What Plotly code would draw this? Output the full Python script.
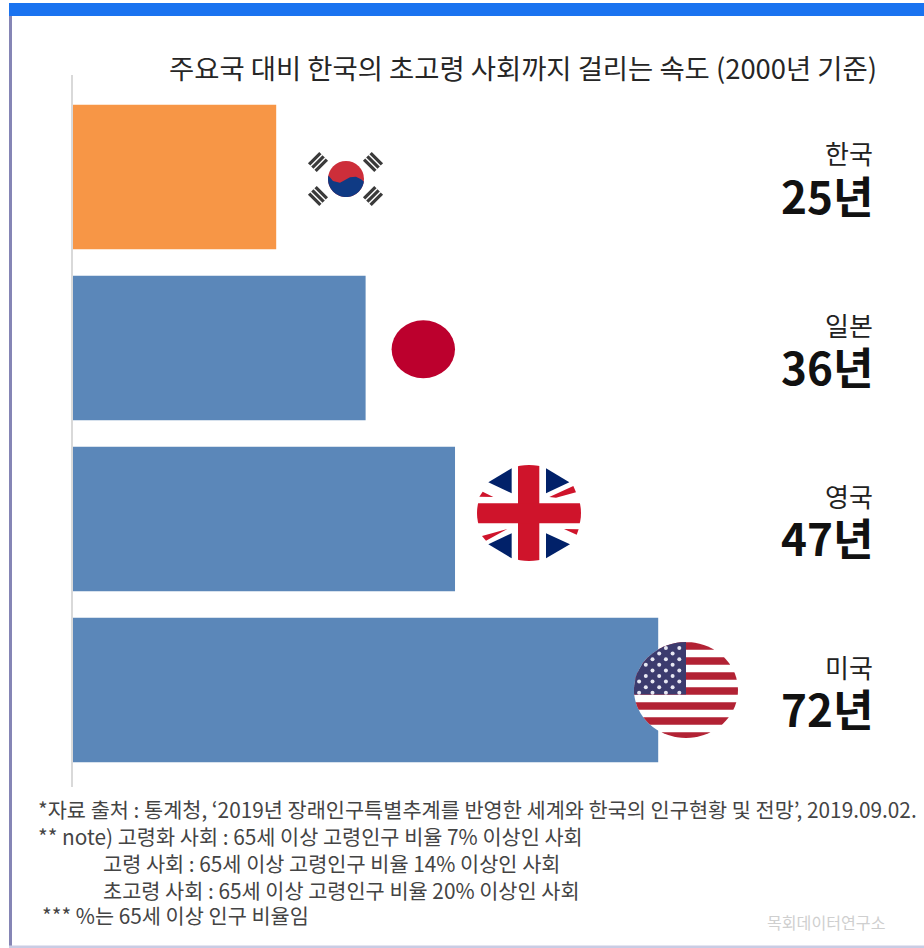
import math
import plotly.graph_objects as go

W, H = 924, 948
KR = "Noto Sans CJK KR"

countries = ["한국", "일본", "영국", "미국"]
years = [25, 36, 47, 72]
bar_colors = ["#F79646", "#5B87B9", "#5B87B9", "#5B87B9"]
title_text = "주요국 대비 한국의 초고령 사회까지 걸리는 속도 (2000년 기준)"
notes = [
    "*자료 출처 : 통계청, ‘2019년 장래인구특별추계를 반영한 세계와 한국의 인구현황 및 전망’, 2019.09.02.",
    "** note) 고령화 사회 : 65세 이상 고령인구 비율 7% 이상인 사회",
    "고령 사회 : 65세 이상 고령인구 비율 14% 이상인 사회",
    "초고령 사회 : 65세 이상 고령인구 비율 20% 이상인 사회",
    "*** %는 65세 이상 인구 비율임",
]
watermark = "목회데이터연구소"

shapes = []


def px(x):
    return x / W


def py(y):
    return 1 - y / H


def polygon(points, color):
    """Filled polygon given in page pixels."""
    path = "M" + "L".join(f"{px(x):.5f},{py(y):.5f}" for x, y in points) + "Z"
    shapes.append(dict(type="path", xref="paper", yref="paper", path=path,
                       fillcolor=color, line=dict(width=0), layer="above"))


def ellipse(cx, cy, rx, ry, color):
    shapes.append(dict(type="circle", xref="paper", yref="paper",
                       x0=px(cx - rx), x1=px(cx + rx), y0=py(cy + ry), y1=py(cy - ry),
                       fillcolor=color, line=dict(width=0), layer="above"))


def rect(x0, y0, x1, y1, color):
    shapes.append(dict(type="rect", xref="paper", yref="paper",
                       x0=px(x0), x1=px(x1), y0=py(y1), y1=py(y0),
                       fillcolor=color, line=dict(width=0), layer="above"))


def clip_to_ellipse(points, cx, cy, rx, ry, sides=72):
    """Sutherland-Hodgman clip of a polygon against a many-sided ellipse."""
    ring = [(cx + rx * math.cos(2 * math.pi * i / sides),
             cy + ry * math.sin(2 * math.pi * i / sides)) for i in range(sides)]
    out = list(points)
    for i in range(sides):
        ax, ay = ring[i]
        bx, by = ring[(i + 1) % sides]
        side = lambda p: (bx - ax) * (p[1] - ay) - (by - ay) * (p[0] - ax)
        src, out = out, []
        for j, p in enumerate(src):
            q = src[(j + 1) % len(src)]
            sp, sq = side(p), side(q)
            if sp >= 0:
                out.append(p)
            if (sp >= 0) != (sq >= 0):
                t = sp / (sp - sq)
                out.append((p[0] + t * (q[0] - p[0]), p[1] + t * (q[1] - p[1])))
        if not out:
            return []
    return out


def korea_flag():
    cx, cy, r = 346, 179, 18
    ellipse(cx, cy, r, r, "#CD2E3A")
    edge = [(328, 175), (333, 181), (340, 182.7), (345, 180), (350, 177.3), (356, 176.7),
            (361, 179.3), (364, 181.7), (368, 200), (324, 200)]
    polygon(clip_to_ellipse(edge, cx, cy, r, r), "#0F3A84")
    # Four trigrams, three strokes each, set on the diagonals
    for tx, ty, ang in [(318, 162, -45), (373, 162, 45), (318, 196, 45), (373, 196, -45)]:
        a = math.radians(ang)
        ux, uy = math.cos(a), math.sin(a)
        vx, vy = -uy, ux
        for k in (-1, 0, 1):
            mx, my = tx + vx * k * 4.6, ty + vy * k * 4.6
            polygon([(mx - ux * 8 - vx * 1.6, my - uy * 8 - vy * 1.6),
                     (mx + ux * 8 - vx * 1.6, my + uy * 8 - vy * 1.6),
                     (mx + ux * 8 + vx * 1.6, my + uy * 8 + vy * 1.6),
                     (mx - ux * 8 + vx * 1.6, my - uy * 8 + vy * 1.6)], "#3A3A3A")


def japan_flag():
    ellipse(423.3, 349.3, 31.7, 29, "#BC002D")


def uk_flag():
    cx, cy, rx, ry = 529, 513, 52, 48
    ox, oy = 460, 450
    to_px = lambda pts: [(ox + a / 3, oy + b / 3) for a, b in pts]
    for tri in ([(85, 97), (155, 55), (155, 130)], [(258, 55), (328, 97), (258, 130)],
                [(85, 283), (155, 250), (155, 325)], [(258, 250), (330, 283), (258, 325)]):
        polygon(to_px(tri), "#012169")
    for streak in ([(58, 140), (68, 125), (100, 141)], [(268, 141), (340, 108), (348, 127), (288, 143)],
                   [(66, 258), (142, 237), (78, 272)], [(312, 237), (356, 238), (350, 254)]):
        polygon(to_px(streak), "#CF142B")
    polygon(clip_to_ellipse([(518, 460), (539.3, 460), (539.3, 566), (518, 566)], cx, cy, rx, ry), "#CF142B")
    polygon(clip_to_ellipse([(470, 503.3), (590, 503.3), (590, 523.3), (470, 523.3)], cx, cy, rx, ry), "#CF142B")


def us_flag():
    cx, cy, rx, ry = 686, 690, 52, 48
    ellipse(cx, cy, rx, ry, "#FFFFFF")
    for k in range(7):
        top = 642.3 + k * 15
        polygon(clip_to_ellipse([(630, top), (742, top), (742, top + 7.5), (630, top + 7.5)],
                                cx, cy, rx, ry), "#B22234")
    polygon(clip_to_ellipse([(630, 640), (686, 640), (686, 694.5), (630, 694.5)],
                            cx, cy, rx, ry), "#3C3B6E")
    # Stars sit on staggered rows inside the canton
    for row in range(9):
        sy = 648 + row * 5.6
        start = 679.3 if row % 2 == 0 else 672.6
        for col in range(7):
            sx = start - col * 13.4
            if ((sx - cx) / rx) ** 2 + ((sy - cy) / ry) ** 2 < 0.93:
                ellipse(sx, sy, 2, 2, "#E8E8F2")


fig = go.Figure(go.Bar(
    x=years, y=countries, orientation="h",
    marker=dict(color=bar_colors, line=dict(width=0)),
    hoverinfo="skip",
))

korea_flag()
japan_flag()
uk_flag()
us_flag()

# Page frame: blue header band, left rule, bottom rule
rect(9, 3, 924, 16, "#1A73F0")
rect(9, 16, 12, 946, "#8585B5")
rect(9, 945.5, 924, 948, "#C9CCE4")


def text(x, y, s, size, color="#333333", anchor="left", bold=False):
    return dict(x=px(x), y=py(y), xref="paper", yref="paper",
                xanchor=anchor, yanchor="middle", text=f"<b>{s}</b>" if bold else s,
                showarrow=False, font=dict(family=KR, size=size, color=color))


annotations = [text(167, 67, title_text, 27.4, "#262626")]
for i, (name, value) in enumerate(zip(countries, years)):
    centre = 177 + i * 171
    annotations.append(text(875, centre - 24, name, 26, "#222222", "right"))
    annotations.append(text(875, centre + 18, f"{value}년", 44, "#111111", "right", bold=True))

for (x, y), line in zip([(36, 809), (36, 836), (101, 863), (101, 890), (40, 915)], notes):
    annotations.append(text(x, y, line, 20.8, "#444444"))
annotations.append(text(765, 922, watermark, 16.1, "#CFCFCF"))

fig.update_layout(
    width=W, height=H, margin=dict(l=0, r=0, t=0, b=0, pad=0),
    paper_bgcolor="white", plot_bgcolor="white", showlegend=False,
    bargap=0.155, shapes=shapes, annotations=annotations,
    xaxis=dict(domain=[73 / W, 1], range=[0, 104.7], visible=False),
    yaxis=dict(domain=[1 - 787 / H, 1 - 75 / H], type="category",
               categoryorder="array", categoryarray=countries,
               range=[3.567, -0.596], showticklabels=False, ticks="",
               showgrid=False, zeroline=False, showline=True,
               linecolor="#D9D9D9", linewidth=2),
)

fig.write_html("out.html")
